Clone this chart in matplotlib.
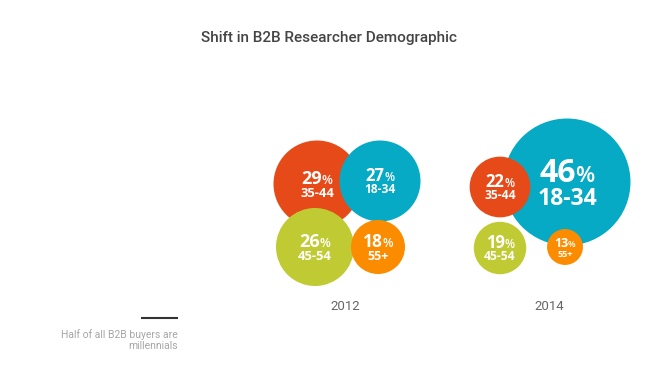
import matplotlib
matplotlib.use("Agg")
import matplotlib.pyplot as plt
from matplotlib.patches import Circle

# data
years = ["2012", "2014"]
age_groups = ["35-44", "18-34", "45-54", "55+"]
share_2012 = [29, 27, 26, 18]
share_2014 = [22, 46, 19, 13]
title = "Shift in B2B Researcher Demographic"
note = "Half of all B2B buyers are\nmillennials"

# layout (pixel coords, y down)
colors = {"35-44": "#e64a19", "18-34": "#06aac4", "45-54": "#c0ca33", "55+": "#fb8c00"}
px_per_pt = {"2012": 1.5, "2014": 1.38}
centers = {
    "2012": [(317, 184), (380, 181), (315, 247), (378, 247)],
    "2014": [(500, 187), (567, 182), (500, 248), (565, 247)],
}
zorders = {"2012": [1, 2, 3, 4], "2014": [2, 1, 3, 4]}
font_pt = {"2012": [13, 12, 13, 12.5], "2014": [12, 23, 12, 9]}
year_label_x = {"2012": 345, "2014": 549}

fig = plt.figure(figsize=(6.5, 3.73), dpi=100)
ax = fig.add_axes([0, 0, 1, 1])
ax.set_xlim(0, 650)
ax.set_ylim(373, 0)
ax.axis("off")

num_font = "Open Sans"
pairs = []
for year, values in zip(years, [share_2012, share_2014]):
    for i, (grp, v) in enumerate(zip(age_groups, values)):
        cx, cy = centers[year][i]
        r = v * px_per_pt[year]
        z = zorders[year][i]
        ax.add_patch(Circle((cx, cy), r, facecolor=colors[grp], edgecolor="none", zorder=z))
        fs = font_pt[year][i]
        t_num = ax.text(cx, cy, str(v), fontsize=fs, fontweight="bold", family=num_font,
                        color="white", ha="right", va="baseline", zorder=z + 0.5)
        t_pct = ax.text(cx, cy, "%", fontsize=fs * 0.7, fontweight="semibold", family=num_font,
                        color="white", ha="left", va="baseline", zorder=z + 0.5)
        ax.text(cx, cy + fs * 0.95 + 1, grp, fontsize=fs * 0.72, fontweight="bold", family=num_font,
                color="white", ha="center", va="baseline", zorder=z + 0.5)
        pairs.append((t_num, t_pct, cx, cy, fs))

# centre number + percent sign as one group
fig.canvas.draw()
rend = fig.canvas.get_renderer()
for t_num, t_pct, cx, cy, fs in pairs:
    w1 = t_num.get_window_extent(rend).width
    w2 = t_pct.get_window_extent(rend).width
    gap = -fs * 0.05
    left = cx - (w1 + gap + w2) / 2
    t_num.set_x(left + w1)
    t_pct.set_x(left + w1 + gap)

ax.text(329, 38, title, fontsize=11, family="Roboto", fontweight="medium",
        color="#444444", ha="center", va="center")
for year in years:
    ax.text(year_label_x[year], 306, year, fontsize=9.5, family="Roboto",
            color="#666666", ha="center", va="center")

ax.plot([141, 178], [318, 318], color="#333333", lw=1.5, solid_capstyle="butt")
ax.text(178, 340, note, fontsize=7.5, family="Roboto", color="#a6a6a6",
        ha="right", va="center", linespacing=1.05, multialignment="right")

fig.savefig("out.png", dpi=100)
